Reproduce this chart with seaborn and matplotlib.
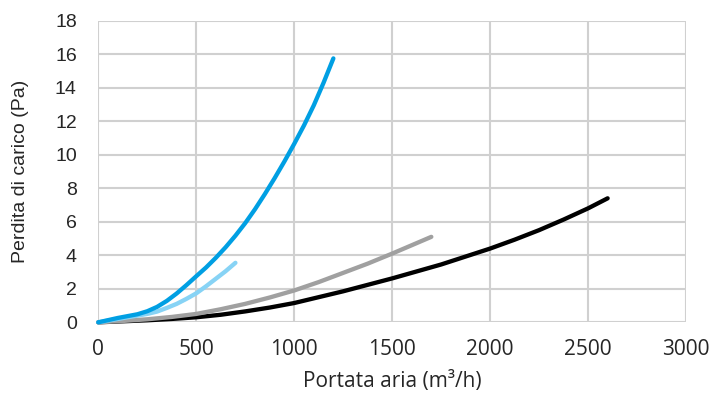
import matplotlib
matplotlib.use("Agg")
import matplotlib.pyplot as plt
import seaborn as sns
import pandas as pd

# Data
blue_x = [0, 100, 200, 250, 300, 350, 400, 450, 500, 550, 600, 650, 700, 750, 800,
          850, 900, 950, 1000, 1050, 1100, 1150, 1200]
blue_y = [0, 0.26, 0.48, 0.66, 0.92, 1.28, 1.72, 2.22, 2.75, 3.27, 3.85, 4.48, 5.17, 5.92, 6.75,
          7.65, 8.6, 9.6, 10.65, 11.75, 12.95, 14.3, 15.75]

light_x = [0, 100, 200, 250, 300, 350, 400, 450, 500, 550, 600, 650, 700]
light_y = [0, 0.2, 0.4, 0.5, 0.64, 0.86, 1.1, 1.4, 1.73, 2.15, 2.6, 3.05, 3.55]

gray_x = [0, 125, 250, 375, 500, 625, 750, 875, 1000, 1125, 1250, 1375, 1500, 1600, 1700]
gray_y = [0, 0.08, 0.18, 0.32, 0.5, 0.78, 1.1, 1.48, 1.9, 2.4, 2.95, 3.5, 4.1, 4.6, 5.1]

black_x = [0, 250, 375, 500, 625, 750, 875, 1000, 1250, 1500, 1750, 2000, 2125, 2250,
           2375, 2500, 2600]
black_y = [0, 0.12, 0.2, 0.3, 0.45, 0.65, 0.88, 1.15, 1.85, 2.62, 3.45, 4.4, 4.93, 5.5,
           6.13, 6.8, 7.4]

series_names = ["black", "gray", "light", "blue"]
colors = {"blue": "#009FE3", "light": "#87D3F5", "gray": "#A0A0A0", "black": "#000000"}

x_ticks = [0, 500, 1000, 1500, 2000, 2500, 3000]
y_ticks = [0, 2, 4, 6, 8, 10, 12, 14, 16, 18]

frames = []
for name, xs, ys in [("black", black_x, black_y), ("gray", gray_x, gray_y),
                     ("light", light_x, light_y), ("blue", blue_x, blue_y)]:
    frames.append(pd.DataFrame({"x": xs, "y": ys, "s": name}))
df = pd.concat(frames, ignore_index=True)

sns.set_style("white")
fig = plt.figure(figsize=(7.13, 3.99), dpi=100)
ax = fig.add_axes([98.3 / 713, 1 - 322.3 / 399, (686 - 98.3) / 713, (322.3 - 20.7) / 399])

sns.lineplot(data=df, x="x", y="y", hue="s", hue_order=series_names, palette=colors,
             sort=False, estimator=None, linewidth=3.1, legend=False, ax=ax,
             solid_capstyle="round", solid_joinstyle="round", zorder=3)
for ln in ax.get_lines():
    ln.set_clip_on(False)

ax.set_xlim(0, 3000)
ax.set_ylim(0, 18)
ax.set_xticks(x_ticks)
ax.set_yticks(y_ticks)
ax.grid(True, color="#D0D0D0", linewidth=1.5, zorder=0)
ax.set_axisbelow(True)
for sp in ax.spines.values():
    sp.set_visible(False)
ax.tick_params(axis="both", length=0)
ax.tick_params(axis="y", pad=15.5)
ax.tick_params(axis="x", pad=12)

for lab in ax.get_yticklabels():
    lab.set_fontfamily("Liberation Sans")
    lab.set_fontsize(14)
for lab in ax.get_xticklabels():
    lab.set_fontfamily("Open Sans")
    lab.set_fontsize(15)

ax.set_xlabel("Portata aria (m³/h)", fontsize=15, family="Open Sans", labelpad=8)
ax.set_ylabel("Perdita di carico (Pa)", fontsize=14, family="Liberation Sans", labelpad=19)

fig.savefig("out.png", dpi=100)
